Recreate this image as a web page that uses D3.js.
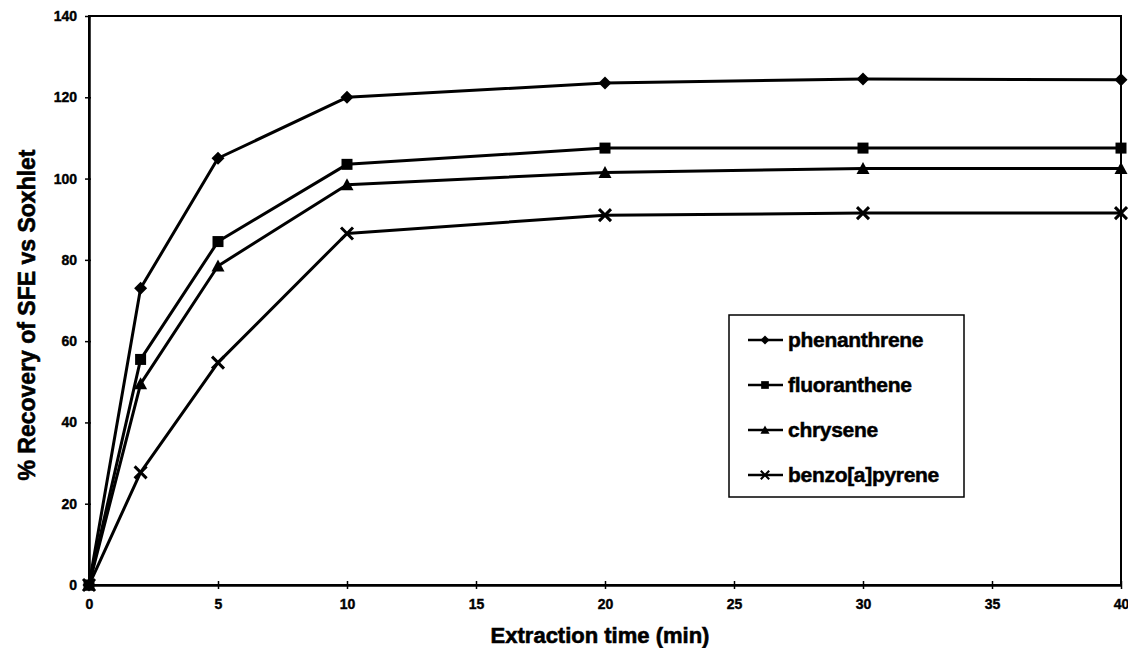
<!DOCTYPE html>
<html>
<head>
<meta charset="utf-8">
<script src="https://cdn.jsdelivr.net/npm/d3@7"></script>
<style>
  html, body { margin: 0; padding: 0; background: #fff; }
  svg { display: block; }
  text { font-family: "Liberation Sans", Arial, sans-serif; font-weight: bold; fill: #000; }
</style>
</head>
<body>
<svg id="chart" width="1128" height="648"></svg>
<script>
const times = [0, 2, 5, 10, 20, 30, 40];
const seriesNames = ["phenanthrene", "fluoranthene", "chrysene", "benzo[a]pyrene"];
const phenanthrene = [0, 73, 105, 120, 123.5, 124.5, 124.3];
const fluoranthene = [0, 55.5, 84.5, 103.5, 107.5, 107.5, 107.5];
const chrysene = [0, 49.5, 78.5, 98.5, 101.5, 102.5, 102.5];
const benzoapyrene = [0, 27.7, 54.7, 86.5, 91, 91.5, 91.5];
const xTicks = [0, 5, 10, 15, 20, 25, 30, 35, 40];
const yTicks = [0, 20, 40, 60, 80, 100, 120, 140];
const xTitle = "Extraction time (min)";
const yTitle = "% Recovery of SFE vs Soxhlet";

const seriesValues = [phenanthrene, fluoranthene, chrysene, benzoapyrene];
const markerTypes = ["diamond", "square", "triangle", "x"];

const svg = d3.select("#chart");
const L = 89, R = 1121, T = 16, B = 585;

const x = d3.scaleLinear().domain([0, 40]).range([L, R]);
const y = d3.scaleLinear().domain([0, 140]).range([B, T]);

// frame
svg.append("rect").attr("x", L).attr("y", T).attr("width", R - L).attr("height", B - T)
  .attr("fill", "none").attr("stroke", "#000").attr("stroke-width", 2);

// axes
const xAxis = d3.axisBottom(x).tickValues(xTicks).tickSize(0).tickPadding(14);
const gx = svg.append("g").attr("transform", `translate(0,${B})`).call(xAxis);
gx.select(".domain").attr("stroke", "#000").attr("stroke-width", 2.5);
gx.selectAll("text").attr("font-size", 14).style("font-family", "'Liberation Sans', Arial, sans-serif")
  .style("font-weight", "bold").attr("stroke", "#000").attr("stroke-width", 0.4);
gx.selectAll(".tick").append("line").attr("y1", -4).attr("y2", 4).attr("stroke", "#000").attr("stroke-width", 1.5);

const yAxis = d3.axisLeft(y).tickValues(yTicks).tickSize(0).tickPadding(12);
const gy = svg.append("g").attr("transform", `translate(${L},0)`).call(yAxis);
gy.select(".domain").attr("stroke", "#000").attr("stroke-width", 2.5);
gy.selectAll("text").attr("font-size", 14).style("font-family", "'Liberation Sans', Arial, sans-serif")
  .style("font-weight", "bold").attr("stroke", "#000").attr("stroke-width", 0.4);
gy.selectAll(".tick").append("line").attr("x1", -4).attr("x2", 2).attr("stroke", "#000").attr("stroke-width", 1.5);

// titles
svg.append("text").attr("x", 600).attr("y", 643).attr("text-anchor", "middle")
  .attr("font-size", 22).attr("stroke", "#000").attr("stroke-width", 0.6).text(xTitle);
svg.append("text").attr("transform", "translate(35,315) rotate(-90)").attr("text-anchor", "middle")
  .attr("font-size", 23).attr("stroke", "#000").attr("stroke-width", 0.6).text(yTitle);

// lines
const line = d3.line().x((d, i) => x(times[i])).y(d => y(d));
seriesValues.forEach((vals) => {
  svg.append("path").datum(vals).attr("d", line)
    .attr("fill", "none").attr("stroke", "#000").attr("stroke-width", 3).attr("stroke-linejoin", "round");
});

function drawMarker(g, type, cx, cy, k) {
  let d;
  if (type === "diamond") {
    const s = 6.5 * k;
    d = `M0,${-s}L${s},0L0,${s}L${-s},0Z`;
    g.append("path").attr("d", d).attr("transform", `translate(${cx},${cy})`).attr("fill", "#000");
  } else if (type === "square") {
    const s = 5.5 * k;
    d = `M${-s},${-s}H${s}V${s}H${-s}Z`;
    g.append("path").attr("d", d).attr("transform", `translate(${cx},${cy})`).attr("fill", "#000");
  } else if (type === "triangle") {
    const s = 6.5 * k;
    d = `M0,${-s}L${s},${s * 0.85}L${-s},${s * 0.85}Z`;
    g.append("path").attr("d", d).attr("transform", `translate(${cx},${cy})`).attr("fill", "#000");
  } else {
    const s = 6 * k;
    d = `M${-s},${-s}L${s},${s}M${-s},${s}L${s},${-s}`;
    g.append("path").attr("d", d).attr("transform", `translate(${cx},${cy})`)
      .attr("stroke", "#000").attr("stroke-width", 3 * k).attr("fill", "none");
  }
}

const mg = svg.append("g");
seriesValues.forEach((vals, si) => {
  vals.forEach((v, i) => drawMarker(mg, markerTypes[si], x(times[i]), y(v), 1));
});

// legend
const lg = svg.append("g");
lg.append("rect").attr("x", 729).attr("y", 315).attr("width", 235).attr("height", 182)
  .attr("fill", "#fff").attr("stroke", "#000").attr("stroke-width", 1.5);
seriesNames.forEach((name, i) => {
  const cy = 340 + i * 45;
  lg.append("line").attr("x1", 748).attr("x2", 783).attr("y1", cy).attr("y2", cy)
    .attr("stroke", "#000").attr("stroke-width", 2.5);
  drawMarker(lg, markerTypes[i], 765, cy, 0.7);
  lg.append("text").attr("x", 788).attr("y", cy + 7).attr("font-size", 21)
    .attr("stroke", "#000").attr("stroke-width", 0.5)
    .attr("letter-spacing", -0.3).text(name);
});
</script>
</body>
</html>
